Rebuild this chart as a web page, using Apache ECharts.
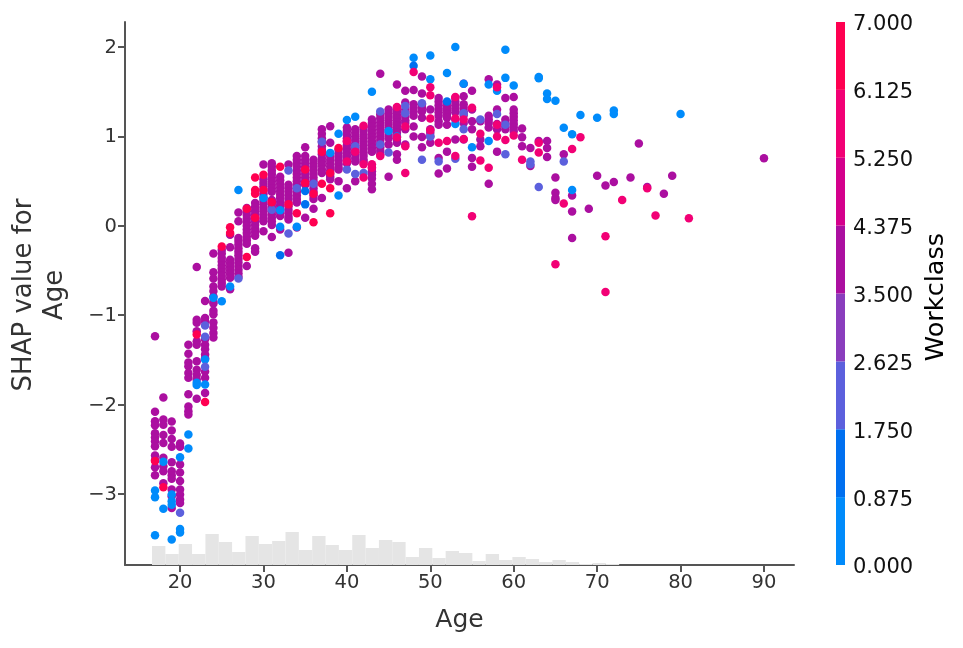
<!DOCTYPE html>
<html><head><meta charset="utf-8">
<style>html,body{margin:0;padding:0;background:#fff}#c{width:963px;height:648px}</style>
<script src="https://cdn.jsdelivr.net/npm/echarts@6/dist/echarts.min.js"></script>
</head><body><div id="c"></div>
<script>
// Each row: age, then the SHAP values read at that age.
const workclass4 = [
[17,-1.235,-2.08,-2.185,-2.23,-2.32,-2.365,-2.41,-2.465,-2.57,-2.70,-2.79,-2.62],
[18,-1.92,-2.167,-2.225,-2.34,-2.43,-2.595,-2.69,-2.745,-2.88],
[19,-2.19,-2.29,-2.385,-2.47,-2.645,-2.745,-2.79,-2.83,-2.95,-3.025,-3.155],
[20,-2.435,-2.47,-2.67,-2.76,-2.855,-2.95,-3.005,-3.06,-3.10],
[21,-1.33,-1.43,-1.53,-1.57,-1.645,-1.70,-1.885,-2.02,-2.075,-2.11],
[22,-0.46,-1.05,-1.085,-1.18,-1.29,-1.33,-1.515,-1.61,-1.665,-1.72,-1.935],
[23,-0.84,-1.03,-1.07,-1.27,-1.33,-1.38,-1.44,-1.48,-1.63,-1.70,-1.87],
[24,-0.31,-0.52,-0.59,-0.68,-0.73,-0.79,-0.85,-0.87,-0.95,-0.99,-1.08,-1.14,-1.20,-1.25],
[25,-0.27,-0.31,-0.36,-0.40,-0.44,-0.48,-0.52,-0.56,-0.60,-0.64,-0.68],
[26,-0.10,-0.24,-0.38,-0.42,-0.46,-0.50,-0.54,-0.58,-0.71],
[27,0.15,0.05,-0.135,-0.17,-0.21,-0.25,-0.29,-0.33,-0.37,-0.41,-0.45,-0.49,-0.53,-0.57],
[28,0.20,0.16,0.12,0.08,0.04,0,-0.04,-0.08,-0.12,-0.16,-0.20,-0.45],
[29,0.256,0.21,0.17,0.13,0.09,0.05,0.01,-0.03,-0.07,-0.11,-0.25,-0.29],
[30,0.685,0.52,0.48,0.44,0.40,0.36,0.32,0.28,0.24,0.20,0.16,0.12,0.08,0.05,-0.06],
[31,0.70,0.66,0.62,0.58,0.54,0.50,0.46,0.42,0.38,0.29,0.25,0.21,0.17,0.13,0.09,0.05,0.01,-0.124],
[32,0.55,0.51,0.47,0.43,0.39,0.35,0.31,0.27,0.23,0.19,0.15,0.11,-0.04],
[33,0.685,0.46,0.42,0.38,0.34,0.30,0.26,0.22,0.18,0.14,0.10,0.07,-0.30],
[34,0.78,0.74,0.70,0.66,0.62,0.58,0.54,0.50,0.46,0.42,0.38,0.34,0.30,0.26,-0.02],
[35,0.88,0.78,0.74,0.70,0.66,0.62,0.58,0.54,0.50,0.46,0.09],
[36,0.74,0.70,0.66,0.62,0.58,0.54,0.50,0.46,0.42,0.38,0.34,0.30,0.19],
[37,1.08,1.03,0.98,0.94,0.89,0.85,0.80,0.76,0.72,0.68,0.63,0.59,0.31],
[38,1.115,0.93,0.78,0.74,0.70,0.66,0.62,0.58,0.55,0.52],
[39,0.85,0.81,0.77,0.73,0.69,0.65,0.63,0.50],
[40,1.10,1.06,1.02,0.98,0.94,0.90,0.86,0.82,0.78,0.74,0.70,0.42],
[41,1.08,1.04,1.00,0.96,0.92,0.88,0.84,0.80,0.76,0.72,0.50],
[42,1.10,1.06,1.02,0.98,0.94,0.90,0.86,0.82,0.78,0.74,0.71],
[43,1.19,1.15,1.11,1.07,1.03,0.99,0.95,0.91,0.87,0.83,0.65,0.61,0.57,0.53,0.47,0.41],
[44,1.70,1.245,1.20,1.16,1.12,1.08,1.04,1.00,0.96,0.92,0.88,0.84,0.80],
[45,1.30,1.26,1.22,1.18,1.14,1.10,1.06,1.02,0.98,0.91,0.55],
[46,1.58,1.32,1.28,1.24,1.20,1.16,1.12,1.08,1.04,0.96,0.93,0.80,0.74],
[47,1.51,1.38,1.30,1.26,1.22,1.18,1.15,1.08,0.91],
[48,1.52,1.36,1.32,1.28,1.23,1.11,1.00],
[49,1.67,1.48,1.36,1.32,1.28,1.21,0.995,0.88],
[50,1.30,1.08,1.04,1.00,0.93],
[51,1.43,1.39,1.35,1.31,1.27,1.23,1.17,1.13,0.76,0.585],
[52,1.375,1.33,1.29,1.25,1.21,1.13,0.83,0.64],
[53,1.43,1.39,1.35,1.31,1.27,1.19,0.965],
[54,1.59,1.45,1.36,1.32,1.28,1.24,1.15,0.965],
[55,1.51,1.30,1.17,1.08,0.76,0.66],
[56,1.17,0.965,0.89],
[57,1.64,1.23,1.19,1.15,1.10,0.47],
[58,1.58,1.30,1.14,1.08,0.83],
[59,1.43,1.19,1.15,1.11,1.08],
[60,1.44,1.30,1.26,1.22,1.18,1.14,1.10,1.06],
[61,1.09,0.99,0.89],
[62,0.87,0.67],
[63,0.95],
[64,0.95,0.87,0.77],
[65,0.54,0.37,0.31,0.29],
[66,0.80],
[67,0.34,0.16,-0.135],
[69,0.19],[70,0.56],[71,0.45],[72,0.49],[74,0.54],[75,0.92],[76,0.435],[78,0.36],[79,0.56],[90,0.756]
];
const workclass0 = [
[17,-2.96,-3.035,-3.46],[18,-2.64,-3.165],[19,-3.005,-3.08,-3.12,-3.51],[20,-2.59,-3.39,-3.43],
[21,-2.335,-2.49],[22,-1.755,-1.78],[23,-1.495,-1.775],[24,-0.805],[25,-0.845],[26,-0.68],[27,0.40],
[30,0.31],[32,0.175,-0.01],[34,-0.01],[38,0.816],[39,1.03,0.34],[40,1.185],[41,1.22],[43,1.50],[45,1.06],[46,1.00],
[48,1.88],[50,1.64,1.905],[52,1.71],[53,2.00,1.14],[54,1.59],[55,0.88],[57,1.58,0.95],[58,1.51],[59,1.97,1.655],[60,1.57],
[63,1.666,1.65],[64,1.48,1.42],[65,1.40],[66,1.096],[67,1.025,0.40],[68,1.24],[70,1.21],[72,1.29,1.25],[80,1.25]
];
const workclass1 = [[32,-0.33],[35,0.39,0.24],[48,1.79],[52,1.39]];
const workclass2 = [
[20,-3.21],[23,-1.115,-1.24,-1.577],[27,-0.59],[31,0.18],[33,0.62,-0.087],[34,0.42],[36,0.47],[37,0.94],
[40,0.63],[41,0.89,0.58],[42,0.59],[44,1.28,0.91],[45,0.82],[47,1.34,1.26],[49,1.37,0.74],[50,1.00],[51,0.72],
[53,0.75],[54,1.26,1.08],[56,1.19],[58,1.25],[59,1.13,0.80],[62,0.72,0.69],[63,0.435],[66,0.72]
];
const workclass6 = [
[40,0.95,0.72],[41,0.83],[42,1.12,0.69,0.54],[43,0.69,0.65],[44,0.78],[46,1.33,0.99],[47,1.11,0.59,0.89],[48,1.72],
[50,1.55,1.46,1.20,1.07],[51,0.93],[52,0.95],[53,1.44,1.20,0.78],[54,1.19,0.97],[55,1.32,0.107],[56,1.03,0.73],[57,0.65],
[58,1.55,1.13,1.00],[59,0.96],[60,1.01],[61,0.74],[63,0.93,0.82],[65,-0.43],[66,0.25],[67,0.86],[68,0.99],[71,-0.117,-0.74],
[73,0.29],[76,0.42],[77,0.115],[81,0.085]
];
const workclass7 = [
[17,-2.63],[18,-2.925],[22,-1.215],[23,-1.97],[25,-0.23],[26,-0.015,-0.08],[28,0.19,-0.35],[29,0.54,0.40,0.36,0.09],
[30,0.57,0.40],[31,0.264],[32,0.66],[33,0.24],[34,0.14],[35,0.63,0.48],[36,0.36,0.04],[37,0.83,0.47],[38,0.59,0.42,0.14],[39,0.87]
];
const bandColors = ['#008bfb','#0070f0','#5c60dd','#8a3dbd','#ab0fa0','#d4008c','#f20075','#ff0051'];
const bandSize = 0.875;
const histStart = 16.64;
const histBinWidth = 1.6;
const histCounts = [19,11,21,11,31,23,13,29,21,24,33,15,29,20,15,30,17,25,23,8,17,7,14,12,4,11,5,8,6,3,5,3,1,2,1];
const xTicks = [20,30,40,50,60,70,80,90];
const yTicks = [-3,-2,-1,0,1,2];

const flatten = rows => rows.flatMap(r => r.slice(1).map(v => [r[0], v]));
const dot = (name, rows, color, z) => ({
  name, type:'scatter', xAxisIndex:0, yAxisIndex:0, data:flatten(rows), symbol:'circle', symbolSize:8.5,
  itemStyle:{color, opacity:1}, z, silent:true
});
const axisColor = '#555555', textColor = '#333333', font = 'DejaVu Sans';
const chart = echarts.init(document.getElementById('c'), null, {renderer:'canvas'});
chart.setOption({
  animation:false, backgroundColor:'#fff',
  grid:[
    {left:125, top:22, width:669, height:543, outerBoundsMode:'none'},
    {left:836, top:22, width:9, height:543, outerBoundsMode:'none'}
  ],
  xAxis:[
    {type:'value', gridIndex:0, min:13.4, max:93.6, splitLine:{show:false}, name:'Age', nameLocation:'middle', nameGap:43,
     nameTextStyle:{fontFamily:font, fontSize:25, color:textColor},
     axisLine:{onZero:false, lineStyle:{color:axisColor, width:2}},
     axisTick:{length:7, customValues:xTicks, lineStyle:{color:axisColor, width:2}},
     axisLabel:{customValues:xTicks, fontFamily:font, fontSize:19.5, color:textColor, margin:8}},
    {type:'category', gridIndex:1, data:['Workclass'], show:false}
  ],
  yAxis:[
    {type:'value', gridIndex:0, min:-3.794, max:2.28, splitLine:{show:false}, name:'SHAP value for\nAge', nameLocation:'middle', nameGap:54,
     nameTextStyle:{fontFamily:font, fontSize:26, color:textColor, lineHeight:31, padding:[0,3,0,0]},
     axisLine:{onZero:false, lineStyle:{color:axisColor, width:2}},
     axisTick:{length:7, customValues:yTicks, lineStyle:{color:axisColor, width:2}},
     axisLabel:{customValues:yTicks, fontFamily:font, fontSize:19.5, color:textColor, margin:8,
       formatter:v => '{t|' + String(v).replace('-', '\u2212') + '}',
       rich:{t:{fontFamily:font, fontSize:19.5, color:textColor, padding:[2,0,0,0]}}}},
    {type:'value', gridIndex:0, min:0, max:543, show:false, splitLine:{show:false}},
    {type:'value', gridIndex:1, position:'right', min:0, max:7, interval:bandSize, splitLine:{show:false},
     name:'Workclass', nameLocation:'middle', nameGap:78, nameRotate:90,
     nameTextStyle:{fontFamily:font, fontSize:25.6, color:'#000', padding:[0,7,0,0]},
     axisLine:{show:false}, axisTick:{show:false},
     axisLabel:{fontFamily:font, fontSize:21, color:'#111', margin:8, showMinLabel:true, showMaxLabel:true, hideOverlap:false,
       formatter:v => '{t|' + v.toFixed(3) + '}',
       rich:{t:{fontFamily:font, fontSize:21, color:'#111', padding:[6,0,0,0]}}}}
  ],
  series:[
    {name:'Age histogram', type:'custom', xAxisIndex:0, yAxisIndex:1, z:1, silent:true, clip:false,
     data:histCounts.map((c,i)=>[histStart + i*histBinWidth, c]),
     encode:{x:0, y:1},
     renderItem:(params, api) => {
       const a = api.coord([api.value(0), 0]);
       const b = api.coord([api.value(0) + histBinWidth, api.value(1)]);
       return {type:'rect', shape:{x:a[0], y:b[1], width:b[0]-a[0], height:a[1]-b[1]}, style:{fill:'#e5e5e5'}};
     }},
    dot('Workclass 4', workclass4, bandColors[4], 3),
    dot('Workclass 0', workclass0, bandColors[0], 4),
    dot('Workclass 1', workclass1, bandColors[1], 4),
    dot('Workclass 2', workclass2, bandColors[2], 5),
    dot('Workclass 6', workclass6, bandColors[6], 5),
    dot('Workclass 7', workclass7, bandColors[7], 5),
    ...bandColors.map((color,i)=>({
      name:'band'+i, type:'bar', xAxisIndex:1, yAxisIndex:2, stack:'bar', barWidth:'100%', silent:true,
      data:[bandSize], itemStyle:{color}
    }))
  ]
});
</script></body></html>
